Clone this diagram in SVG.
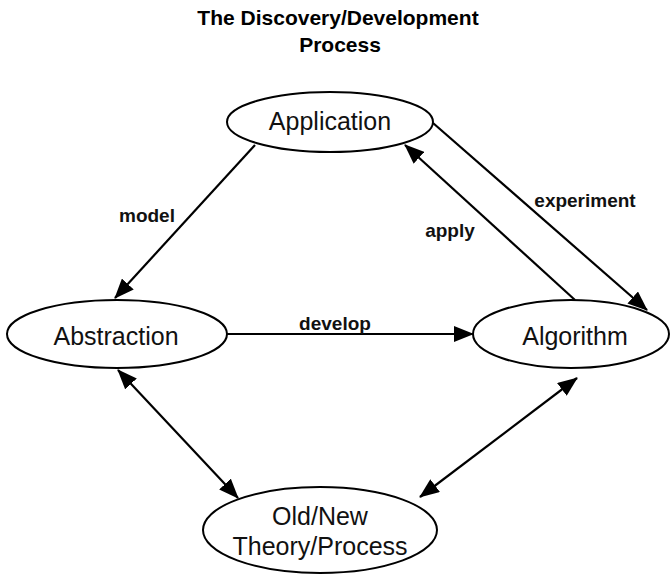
<svg xmlns="http://www.w3.org/2000/svg" width="672" height="575" viewBox="0 0 672 575">
<style>
.node ellipse{fill:#fff;stroke:#000;stroke-width:2}
.nl{font-family:"Liberation Sans",Arial,sans-serif;font-size:25px;text-anchor:middle;fill:#111}
.el{font-family:"Liberation Sans",Arial,sans-serif;font-size:19px;font-weight:bold;text-anchor:middle;fill:#111}
.title{font-family:"Liberation Sans",Arial,sans-serif;font-size:21px;font-weight:bold;text-anchor:middle;fill:#000}
.conn line{stroke:#000;stroke-width:2.2;fill:none}
</style>
<defs>
<marker id="ah" markerUnits="userSpaceOnUse" markerWidth="20" markerHeight="16" refX="19" refY="8" orient="auto-start-reverse" viewBox="0 0 20 16">
<path d="M0,0 L20,8 L0,16 z" fill="#000"/>
</marker>
</defs>
<rect width="672" height="575" fill="#fff"/>
<g id="title">
<text class="title" x="338" y="25">The Discovery/Development</text>
<text class="title" x="340" y="52">Process</text>
</g>
<g class="conn" id="connectors">
<line x1="255" y1="145" x2="115" y2="298" marker-end="url(#ah)"/>
<line x1="433" y1="123" x2="647" y2="310" marker-end="url(#ah)"/>
<line x1="575" y1="300" x2="405" y2="145" marker-end="url(#ah)"/>
<line x1="227" y1="334" x2="473" y2="334" marker-end="url(#ah)"/>
<line x1="118" y1="370" x2="238" y2="498" marker-start="url(#ah)" marker-end="url(#ah)"/>
<line x1="577" y1="378" x2="420" y2="497" marker-start="url(#ah)" marker-end="url(#ah)"/>
</g>
<g id="edge-labels">
<text class="el" x="147" y="222">model</text>
<text class="el" x="585" y="207">experiment</text>
<text class="el" x="450" y="237">apply</text>
<text class="el" x="335" y="330">develop</text>
</g>
<g class="node" id="application">
<ellipse cx="330" cy="122" rx="103" ry="30"/>
<text class="nl" x="330" y="130">Application</text>
</g>
<g class="node" id="abstraction">
<ellipse cx="117" cy="334" rx="110" ry="34"/>
<text class="nl" x="116" y="345">Abstraction</text>
</g>
<g class="node" id="algorithm">
<ellipse cx="571" cy="334" rx="98" ry="34"/>
<text class="nl" x="575" y="345">Algorithm</text>
</g>
<g class="node" id="theory">
<ellipse cx="320" cy="530" rx="117" ry="43"/>
<text class="nl" x="320" y="525">Old/New</text>
<text class="nl" x="320" y="555">Theory/Process</text>
</g>
</svg>
